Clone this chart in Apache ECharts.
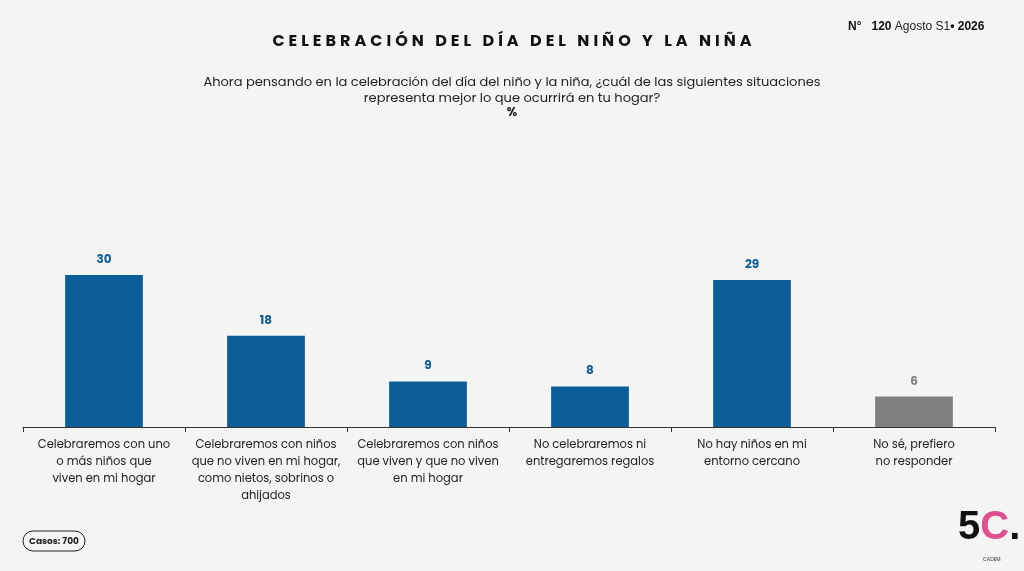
<!DOCTYPE html>
<html><head><meta charset="utf-8">
<script src="https://cdn.jsdelivr.net/npm/echarts@6/dist/echarts.min.js"></script>
<style>html,body{margin:0;background:#f4f4f3}#c{width:1024px;height:571px}</style>
</head><body><div id="c"></div>
<script>
const categorias = [
  "Celebraremos con uno\no más niños que\nviven en mi hogar",
  "Celebraremos con niños\nque no viven en mi hogar,\ncomo nietos, sobrinos o\nahijados",
  "Celebraremos con niños\nque viven y que no viven\nen mi hogar",
  "No celebraremos ni\nentregaremos regalos",
  "No hay niños en mi\nentorno cercano",
  "No sé, prefiero\nno responder"
];
const valores = [30, 18, 9, 8, 29, 6];
const colores = ["#0b5e98", "#0b5e98", "#0b5e98", "#0b5e98", "#0b5e98", "#808080"];
const titulo = "CELEBRACIÓN DEL DÍA DEL NIÑO Y LA NIÑA";

const fuente = "Poppins, 'Noto Sans', sans-serif";
const espaciado = titulo.split("").join("\u2005");
const chart = echarts.init(document.getElementById("c"));
chart.setOption({
  backgroundColor: "#f4f4f3",
  textStyle: { fontFamily: fuente },
  graphic: [
    { type: "text", x: 512, y: 34, style: { text: espaciado, align: "center", font: "bold 16px " + fuente, fill: "#111" } },
    { type: "text", x: 512, y: 75, style: { text: "Ahora pensando en la celebración del día del niño y la niña, ¿cuál de las siguientes situaciones\nrepresenta mejor lo que ocurrirá en tu hogar?", align: "center", font: "13px " + fuente, lineHeight: 16, fill: "#222" } },
    { type: "text", x: 512, y: 107, style: { text: "%", align: "center", font: "bold 12px " + fuente, fill: "#222" } },
    { type: "text", x: 848, y: 21, style: { rich: { b: { fontWeight: "bold", fontSize: 12, fill: "#111" }, n: { fontSize: 12, fill: "#222" } }, text: "{b|N°   120} {n|Agosto S1}{b|• 2026}" } },
    { type: "rect", x: 23, y: 531, shape: { width: 62, height: 20, r: 10 }, style: { fill: "none", stroke: "#222", lineWidth: 1 } },
    { type: "text", x: 54, y: 537, style: { text: "Casos: 700", align: "center", font: "bold 9px " + fuente, fill: "#222" } },
    { type: "text", x: 958, y: 508, style: { rich: { a: { fontSize: 40, fontWeight: "bold", fill: "#111" }, c: { fontSize: 40, fontWeight: "bold", fill: "#e04f8f" }, d: { fontSize: 40, fontWeight: "bold", fill: "#111" } }, text: "{a|5}{c|C}{d|.}" } },
    { type: "text", x: 983, y: 557, style: { text: "CADEM", font: "5px " + fuente, fill: "#333" } }
  ],
  grid: { left: 23, right: 29, top: 123, bottom: 144 },
  xAxis: {
    type: "category", data: categorias,
    axisLine: { lineStyle: { color: "#333" } },
    axisTick: { show: true, length: 5, lineStyle: { color: "#333" } },
    axisLabel: { interval: 0, color: "#222", fontSize: 11.5, lineHeight: 17, margin: 10 }
  },
  yAxis: { type: "value", min: 0, max: 60, show: false, splitLine: { show: false } },
  series: [{
    type: "bar", barWidth: "48%",
    data: valores.map((v, i) => ({ value: v, itemStyle: { color: colores[i] }, label: { color: colores[i] } })),
    label: { show: true, position: "top", distance: 9, fontWeight: "bold", fontSize: 12 }
  }]
});
</script></body></html>
